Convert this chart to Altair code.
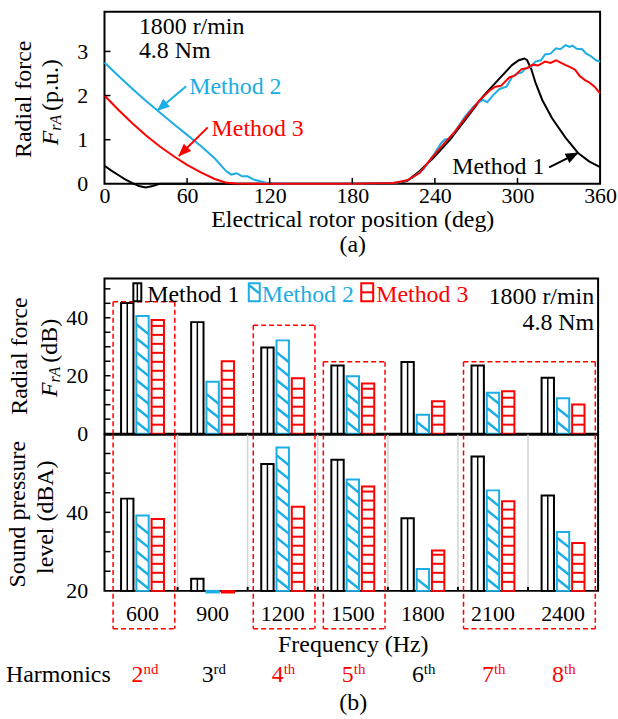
import altair as alt
import pandas as pd

FONT = "Liberation Serif"
BLACK, BLUE, RED = "#000000", "#1CADE4", "#FF0000"
methods = ["Method 1", "Method 2", "Method 3"]
mcolors = [BLACK, BLUE, RED]

# ---------------- (a) radial force waveform ----------------
deg_ticks = [0, 60, 120, 180, 240, 300, 360]
pu_ticks = [0, 1, 2, 3]

m1_deg = [0, 5, 10, 15, 20, 25, 30, 35, 40, 60, 120, 180, 200, 210, 215, 220, 229, 239, 251, 263, 275,
          287, 296, 301, 305, 307, 310, 313, 318, 325, 335, 344, 352, 360]
m1_val = [0.41, 0.30, 0.20, 0.10, 0.02, -0.05, -0.08, -0.05, 0.0, 0.0, 0.0, 0.0, 0.01, 0.02, 0.03, 0.07,
          0.29, 0.59, 1.0, 1.49, 1.98, 2.39, 2.69, 2.80, 2.84, 2.80, 2.60, 2.30, 1.90, 1.49, 1.04, 0.70,
          0.51, 0.38]

m2_deg = [0, 10, 20, 30, 40, 50, 60, 70, 80, 88, 92, 96, 100, 104, 108, 113, 118, 125, 180, 210, 215,
          220, 224, 228, 232, 236, 240, 244, 247, 250, 255, 262, 268, 272, 275, 278, 282, 287, 292, 296,
          300, 303, 306, 310, 313, 317, 320, 324, 328, 331, 335, 338, 340, 343, 347, 350, 353, 357, 360]
m2_val = [2.75, 2.45, 2.16, 1.88, 1.62, 1.36, 1.11, 0.86, 0.58, 0.30, 0.21, 0.24, 0.17, 0.17, 0.10,
          0.06, 0.02, 0.0, 0.0, 0.02, 0.04, 0.08, 0.14, 0.24, 0.34, 0.52, 0.70, 0.90, 1.0, 1.02, 1.20,
          1.53, 1.75, 1.85, 1.90, 1.85, 2.0, 2.15, 2.20, 2.42, 2.50, 2.52, 2.62, 2.65, 2.77, 2.80, 2.93,
          2.95, 3.07, 3.05, 3.14, 3.10, 3.13, 3.06, 3.05, 2.95, 2.90, 2.80, 2.77]

m3_deg = [0, 10, 20, 30, 40, 50, 60, 70, 80, 88, 95, 120, 180, 210, 220, 229, 238, 246, 255, 263, 272,
          280, 284, 288, 294, 298, 303, 307, 311, 315, 320, 324, 328, 331, 335, 338, 342, 345, 349, 352,
          356, 360]
m3_val = [2.0, 1.68, 1.38, 1.10, 0.85, 0.63, 0.43, 0.26, 0.11, 0.03, 0.01, 0.0, 0.0, 0.02, 0.08, 0.25,
          0.60, 0.89, 1.20, 1.53, 1.88, 2.12, 2.20, 2.22, 2.41, 2.45, 2.60, 2.62, 2.70, 2.68, 2.77, 2.74,
          2.80, 2.75, 2.69, 2.65, 2.58, 2.45, 2.35, 2.30, 2.20, 2.05]

# annotations of (a)
ann_text = ["Method 2", "Method 3", "Method 1", "1800 r/min", "4.8 Nm"]
ann_deg = [61.6, 77.8, 252.6, 25, 25]
ann_val = [2.19, 1.24, 0.375, 3.56, 3.0]
ann_col = [BLUE, RED, BLACK, BLACK, BLACK]
arrow_id = ["a2", "a2", "a3", "a3", "a1", "a1"]
arrow_deg = [59.3, 38.5, 75.0, 54.0, 323.0, 344.0]
arrow_val = [2.21, 1.66, 1.28, 0.63, 0.375, 0.70]
arrow_col = [BLUE, BLUE, RED, RED, BLACK, BLACK]
head_deg = [37.9, 53.6, 344.4]
head_val = [1.65, 0.62, 0.71]
head_ang = [230, 225, 63]
head_col = [BLUE, RED, BLACK]

# ---------------- (b) harmonic bars ----------------
freqs = ["600", "900", "1200", "1500", "1800", "2100", "2400"]
force_m1 = [45.1, 38.5, 29.7, 23.5, 24.7, 23.5, 19.3]
force_m2 = [40.6, 17.9, 32.2, 19.8, 6.5, 14.1, 12.2]
force_m3 = [39.2, 25.0, 19.1, 17.3, 11.2, 14.6, 10.1]
spl_m1 = [43.5, 23.1, 52.3, 53.4, 38.5, 54.2, 44.3]
spl_m2 = [39.2, 19.6, 56.5, 48.4, 25.6, 45.6, 35.0]
spl_m3 = [38.3, 19.6, 41.4, 46.6, 30.3, 42.8, 32.2]
harm_num = ["2", "3", "4", "5", "6", "7", "8"]
harm_suf = ["nd", "rd", "th", "th", "th", "th", "th"]
harm_col = [RED, BLACK, RED, RED, BLACK, RED, RED]
box_start = ["600", "1200", "1500", "2100"]
box_end = ["600", "1200", "1500", "2400"]
box_top = [45.5, 37.4, 24.8, 24.8]

# ---------------- sizes ----------------
WA, HA = 498, 173
WB, HU, HL = 496, 156, 157
DIAG = "M-1,-0.8L1,0.8"
HEAD = "M0,0L-0.8,2L0.8,2Z"


def txt(text, x, y, size=24, color=BLACK, align="left", angle=0, dx=0, dy=0, style="normal"):
    kw = dict(text=text, fontSize=size, color=color, align=align, baseline="middle", font=FONT,
              fontStyle=style, dx=dx, dy=dy)
    if angle:
        kw["angle"] = angle
    return alt.Chart(pd.DataFrame({"t": [0]})).mark_text(**kw).encode(x=alt.value(x), y=alt.value(y))


def rot_title(parts, x, y):
    """parts: list of (text, size, style, dy, width) laid out bottom-to-top"""
    total = sum(p[4] for p in parts)
    pos = -total / 2
    layers = []
    for text, size, style, dy, w in parts:
        layers.append(txt(text, x, y, size=size, angle=270, dx=pos, dy=dy, style=style))
        pos += w
    return layers


# ======== chart (a) ========
dfa = pd.DataFrame({
    "deg": m1_deg + m2_deg + m3_deg,
    "val": m1_val + m2_val + m3_val,
    "method": ["Method 1"] * len(m1_deg) + ["Method 2"] * len(m2_deg) + ["Method 3"] * len(m3_deg),
})
xs_a = alt.Scale(domain=[0, 360], nice=False)
ys_a = alt.Scale(domain=[0, 3.9], nice=False)
xax_a = alt.Axis(values=deg_ticks, ticks=False, tickSize=0, domain=False, grid=False, labelFontSize=22,
                 labelPadding=2, labelOverlap=False, labelFlush=False,
                 title=["Electrical rotor position (deg)", "(a)"], titleFontSize=24,
                 titleFontWeight="normal", titlePadding=1, titleLineHeight=25)
yax_a = alt.Axis(values=pu_ticks, ticks=False, tickSize=0, domain=False, grid=False, labelFontSize=22,
                 labelPadding=17, title=None)


def XA(f):
    return alt.X(f, scale=xs_a, axis=xax_a)


def YA(f):
    return alt.Y(f, scale=ys_a, axis=yax_a)


lines_a = alt.Chart(dfa).mark_line(strokeWidth=2).encode(
    x=XA("deg:Q"), y=YA("val:Q"),
    color=alt.Color("method:N", scale=alt.Scale(domain=methods, range=mcolors), legend=None),
)
ann_a = alt.Chart(pd.DataFrame({"deg": ann_deg, "val": ann_val, "t": ann_text, "c": ann_col})).mark_text(
    align="left", baseline="middle", fontSize=24, font=FONT).encode(
    x=XA("deg:Q"), y=YA("val:Q"), text="t:N", color=alt.Color("c:N", scale=None))
arrows_a = alt.Chart(pd.DataFrame({"deg": arrow_deg, "val": arrow_val, "id": arrow_id, "c": arrow_col})).mark_line(
    strokeWidth=2).encode(x=XA("deg:Q"), y=YA("val:Q"), detail="id:N", color=alt.Color("c:N", scale=None))
heads_a = alt.Chart(pd.DataFrame({"deg": head_deg, "val": head_val, "ang": head_ang, "c": head_col})).mark_point(
    shape=HEAD, filled=True, size=170, opacity=1).encode(
    x=XA("deg:Q"), y=YA("val:Q"), angle=alt.Angle("ang:Q", scale=None), color=alt.Color("c:N", scale=None))
yt_a = alt.Chart(pd.DataFrame({"val": pu_ticks[1:]})).mark_rule(color=BLACK, strokeWidth=1.5).encode(
    x=alt.value(0), x2=alt.value(6), y=YA("val:Q"))
xt_a = alt.Chart(pd.DataFrame({"deg": deg_ticks[1:-1]})).mark_rule(color=BLACK, strokeWidth=1.5).encode(
    x=XA("deg:Q"), y=alt.value(HA), y2=alt.value(HA - 6))

title_a = [txt("Radial force", -81, 88, angle=270, align="center")] + rot_title(
    [("F", 24, "italic", 0, 14.6), ("rA", 16, "italic", 5, 20), ("(p.u.)", 24, "normal", 0, 54)], -54, 90)

chart_a = alt.layer(lines_a, arrows_a, heads_a, ann_a, yt_a, xt_a, *title_a).properties(width=WA, height=HA)

# ======== chart (b) ========
dfb = pd.DataFrame({
    "freq": freqs * 3,
    "method": ["Method 1"] * 7 + ["Method 2"] * 7 + ["Method 3"] * 7,
    "force": force_m1 + force_m2 + force_m3,
    "spl": spl_m1 + spl_m2 + spl_m3,
})
fscale = alt.Scale(domain=freqs, paddingInner=0, paddingOuter=0, range=[3, WB])
oscale = alt.Scale(domain=methods, paddingInner=0.19, paddingOuter=0.89)
ys_u = alt.Scale(domain=[0, 53.6], nice=False, zero=False)
ys_l = alt.Scale(domain=[20, 59.8], nice=False, zero=False)
yax_u = alt.Axis(values=[0, 20, 40], ticks=False, tickSize=0, domain=False, grid=False, labelFontSize=22,
                 labelPadding=17, title=None)
yax_l = alt.Axis(values=[20, 40], ticks=False, tickSize=0, domain=False, grid=False, labelFontSize=22,
                 labelPadding=17, title=None)
xax_l = alt.Axis(ticks=False, tickSize=0, domain=False, grid=False, labelFontSize=22, labelPadding=13,
                 labelAngle=0, title="Frequency (Hz)", titleFontSize=24,
                 titleFontWeight="normal", titlePadding=8)


def stripe_rows(vals, method, base, start, step, margin):
    rows = []
    for f, v in zip(freqs, vals):
        y = base + start
        while y <= v - margin:
            rows.append({"freq": f, "method": method, "y": y})
            y += step
    return pd.DataFrame(rows, columns=["freq", "method", "y"])


def panel(field, vals2, vals3, base, ys, yax, xax, m2_start, m2_step, m2_margin, m3_step, m3_margin,
          tick_vals):
    def X(f="freq:N", **kw):
        return alt.X(f, scale=fscale, axis=xax, **kw)

    def Y(f):
        return alt.Y(f, scale=ys, axis=yax)

    off = alt.XOffset("method:N", scale=oscale)
    bars = alt.Chart(dfb).mark_bar(fill="white", strokeWidth=2).encode(
        x=X(), xOffset=off, y=Y(f"{field}:Q"), y2=alt.datum(base),
        stroke=alt.Stroke("method:N", scale=alt.Scale(domain=methods, range=mcolors), legend=None))
    inner = alt.Chart(dfb[dfb.method == "Method 1"]).mark_rule(strokeWidth=1.5, color=BLACK).encode(
        x=X(), xOffset=off, y=Y(f"{field}:Q"), y2=alt.datum(base))
    s2 = stripe_rows(vals2, "Method 2", base, m2_start, m2_step, m2_margin)
    diag = alt.Chart(s2).mark_point(shape=DIAG, size=144, strokeWidth=2.5, color=BLUE, filled=False,
                                    opacity=1).encode(x=X(), xOffset=off, y=Y("y:Q"))
    s3 = stripe_rows(vals3, "Method 3", base, m3_step, m3_step, m3_margin)
    hor = alt.Chart(s3).mark_tick(size=12, thickness=2, color=RED, opacity=1).encode(
        x=X(), xOffset=off, y=Y("y:Q"))
    yt = alt.Chart(pd.DataFrame({"v": tick_vals})).mark_rule(color=BLACK, strokeWidth=1.5).encode(
        x=alt.value(0), x2=alt.value(6), y=Y("v:Q"))
    return [bars, inner, diag, hor, yt], X, Y


bx = pd.DataFrame({"b0": box_start, "b1": box_end, "top": box_top})
dash = dict(color=RED, strokeWidth=1.5, strokeDash=[5, 3])

# upper panel
up_layers, XU, YU = panel("force", force_m2, force_m3, 0, ys_u, yax_u, None, 2.4, 4.8, 1.8, 3.1, 1.2,
                          [5, 10, 15, 20, 25, 30, 35, 40, 45, 50])
box_top_r = alt.Chart(bx).mark_rule(**dash).encode(
    x=XU("b0:N", bandPosition=0.08), x2=alt.X2("b1:N", bandPosition=0.96), y=YU("top:Q"))
box_l_u = alt.Chart(bx).mark_rule(**dash).encode(
    x=XU("b0:N", bandPosition=0.08), y=YU("top:Q"), y2=alt.datum(0))
box_r_u = alt.Chart(bx).mark_rule(**dash).encode(
    x=XU("b1:N", bandPosition=0.96), y=YU("top:Q"), y2=alt.datum(0))


def one():
    return alt.Chart(pd.DataFrame({"t": [0]}))


# legend inside upper panel
leg = [
    one().mark_rect(fill="white", stroke=BLACK, strokeWidth=2).encode(
        x=alt.value(29), x2=alt.value(37), y=alt.value(5), y2=alt.value(23)),
    one().mark_rule(color=BLACK, strokeWidth=1.5).encode(x=alt.value(33), y=alt.value(5), y2=alt.value(23)),
    one().mark_rect(fill="white", stroke=BLUE, strokeWidth=2).encode(
        x=alt.value(145), x2=alt.value(156), y=alt.value(5), y2=alt.value(23)),
    one().mark_point(shape=DIAG, size=90, strokeWidth=2.5, color=BLUE, filled=False, opacity=1).encode(
        x=alt.value(150.5), y=alt.value(11)),
    one().mark_rect(fill="white", stroke=RED, strokeWidth=2).encode(
        x=alt.value(258), x2=alt.value(270), y=alt.value(5), y2=alt.value(23)),
    one().mark_rule(color=RED, strokeWidth=2).encode(x=alt.value(258), x2=alt.value(270), y=alt.value(14)),
    txt("Method 1", 43, 17, color=BLACK), txt("Method 2", 158, 17, color=BLUE),
    txt("Method 3", 273, 17, color=RED), txt("1800 r/min", 492, 19, align="right"),
    txt("4.8 Nm", 492, 45, align="right"),
]

title_u = [txt("Radial force", -85, 78, angle=270, align="center")] + rot_title(
    [("F", 24, "italic", 0, 14.6), ("rA", 16, "italic", 5, 20), ("(dB)", 24, "normal", 0, 44)], -55, 80)

upper = alt.layer(*up_layers, box_top_r, box_l_u, box_r_u, *leg, *title_u).properties(width=WB, height=HU)

# lower panel
lo_layers, XL, YL = panel("spl", spl_m2, spl_m3, 20, ys_l, yax_l, xax_l, 1.8, 3.5, 1.3, 2.3, 0.9,
                          [25, 30, 35, 40, 45, 50, 55])
seps = alt.Chart(pd.DataFrame({"freq": freqs[1:]})).mark_rule(color="#d4d4d4", strokeWidth=1.5).encode(
    x=XL("freq:N", bandPosition=0))
sep_ticks = alt.Chart(pd.DataFrame({"freq": freqs[1:]})).mark_rule(color=BLACK, strokeWidth=2).encode(
    x=XL("freq:N", bandPosition=0), y=alt.value(HL), y2=alt.value(HL - 4))
BB = HL + 38
box_l_l = alt.Chart(bx).mark_rule(**dash).encode(
    x=XL("b0:N", bandPosition=0.08), y=alt.value(0), y2=alt.value(BB))
box_r_l = alt.Chart(bx).mark_rule(**dash).encode(
    x=XL("b1:N", bandPosition=0.96), y=alt.value(0), y2=alt.value(BB))
box_b_l = alt.Chart(bx).mark_rule(**dash).encode(
    x=XL("b0:N", bandPosition=0.08), x2=alt.X2("b1:N", bandPosition=0.96), y=alt.value(BB))
hdf = pd.DataFrame({"freq": freqs, "n": harm_num, "s": harm_suf, "c": harm_col})
harm_n = alt.Chart(hdf).mark_text(align="right", baseline="middle", fontSize=24, font=FONT, dx=1).encode(
    x=XL("freq:N"), y=alt.value(HL + 85), text="n:N", color=alt.Color("c:N", scale=None))
harm_s = alt.Chart(hdf).mark_text(align="left", baseline="middle", fontSize=15, font=FONT, dx=1, dy=-6).encode(
    x=XL("freq:N"), y=alt.value(HL + 85), text="s:N", color=alt.Color("c:N", scale=None))
title_l = [txt("Sound pressure", -87, 80, angle=270, align="center"),
           txt("level (dBA)", -59, 83, angle=270, align="center"),
           txt("Harmonics", -99, HL + 85),
           txt("(b)", WB / 2 + 2, HL + 113, align="center")]

lower = alt.layer(seps, *lo_layers, sep_ticks, box_l_l, box_r_l, box_b_l, harm_n, harm_s, *title_l).properties(
    width=WB, height=HL)

chart_b = alt.vconcat(upper, lower, spacing=1, bounds="flush")

chart = alt.vconcat(chart_a, chart_b, spacing=20).properties(
    padding={"left": 5, "top": 9, "right": 0, "bottom": 0}, background="white"
).configure(font=FONT).configure_view(stroke=BLACK, strokeWidth=2).configure_axis(
    labelFont=FONT, titleFont=FONT, labelColor=BLACK, titleColor=BLACK)

chart.save("out.html", embed_options={"renderer": "svg", "actions": False})
